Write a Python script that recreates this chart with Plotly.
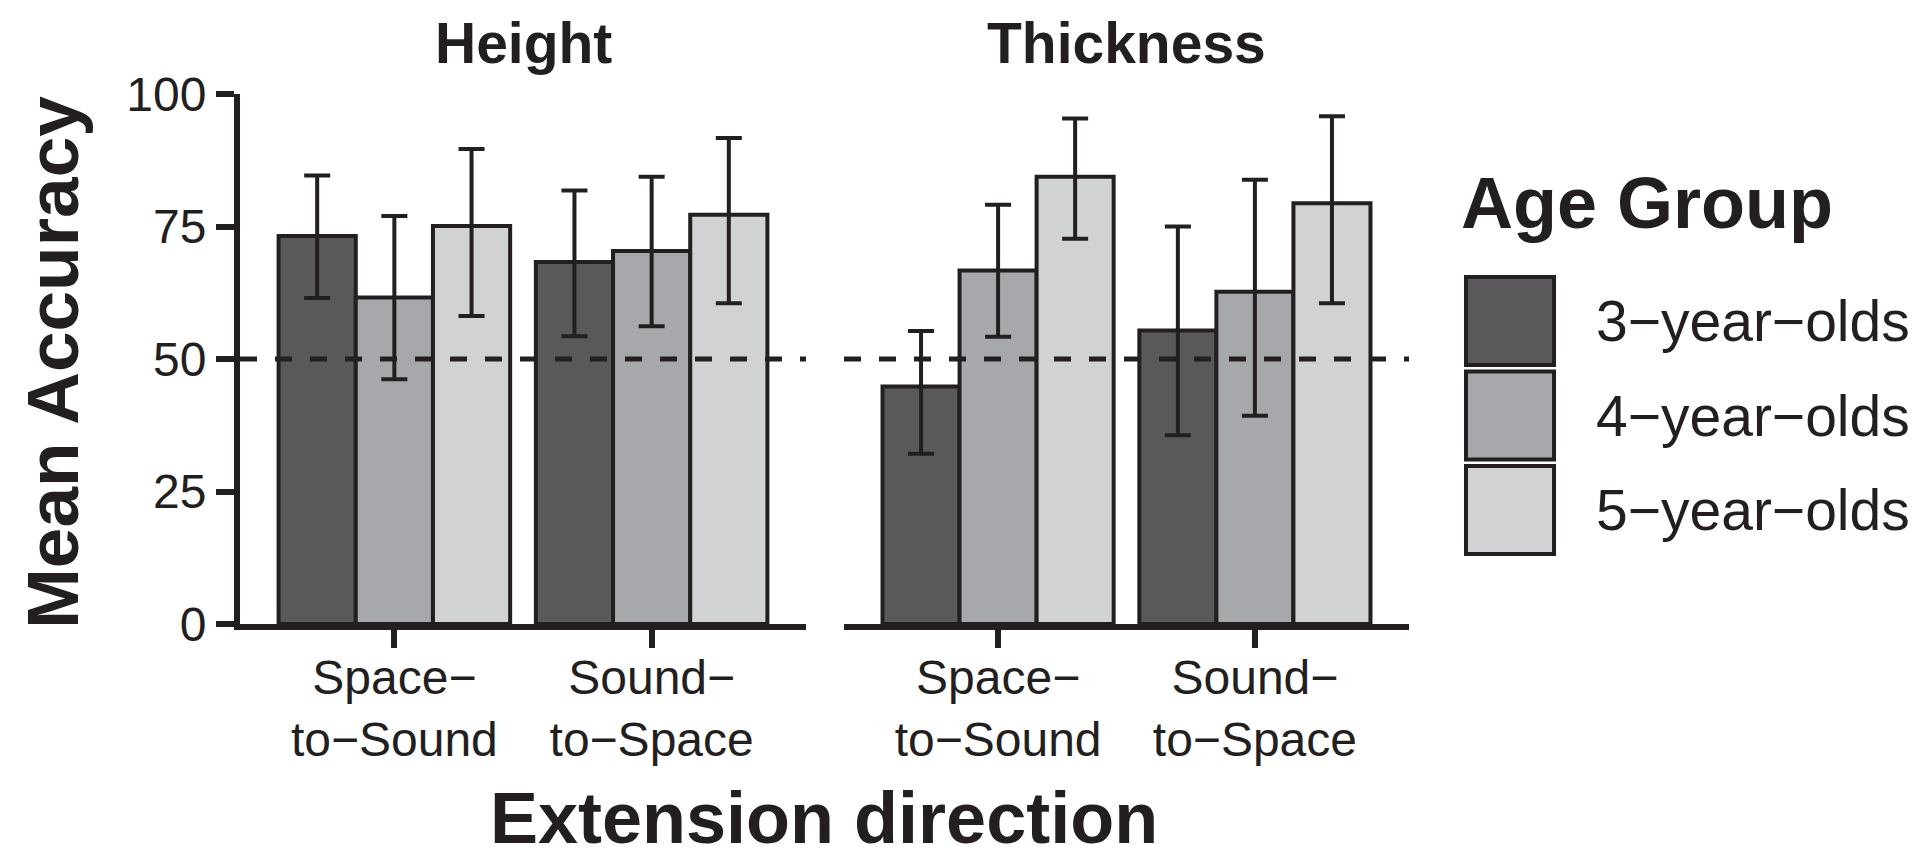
import plotly.graph_objects as go

W, H = 1920, 863
OFF = 6  # compensation for the page's body margin (px)

# ---------------- data ----------------
directions = ["Space\u2212<br>to\u2212Sound", "Sound\u2212<br>to\u2212Space"]
age_groups = ["3\u2212year\u2212olds", "4\u2212year\u2212olds", "5\u2212year\u2212olds"]
panels = ["Height", "Thickness"]

# mean accuracy per panel -> age group -> [Space-to-Sound, Sound-to-Space]
height_mean = {
    "3": [73.2, 68.3],
    "4": [61.6, 70.4],
    "5": [75.1, 77.2],
}
height_lo = {
    "3": [61.5, 54.3],
    "4": [46.2, 56.2],
    "5": [58.1, 60.5],
}
height_hi = {
    "3": [84.6, 81.8],
    "4": [77.0, 84.4],
    "5": [89.6, 91.7],
}
thick_mean = {
    "3": [44.8, 55.4],
    "4": [66.7, 62.7],
    "5": [84.4, 79.4],
}
thick_lo = {
    "3": [32.1, 35.6],
    "4": [54.2, 39.3],
    "5": [72.7, 60.5],
}
thick_hi = {
    "3": [55.3, 75.0],
    "4": [79.1, 83.8],
    "5": [95.4, 95.8],
}
chance_level = 50
y_ticks = [0, 25, 50, 75, 100]

# ---------------- style ----------------
colors = ["#59595b", "#a7a8ab", "#d1d2d4"]
ink = "#231f20"
FONT = "Liberation Sans, Arial, Helvetica, sans-serif"


def px(x):
    return (x - OFF) / W


def py(y):
    return 1 - (y - OFF) / H


fig = go.Figure()

panel_data = [
    ("x", "y", height_mean, height_lo, height_hi),
    ("x2", "y2", thick_mean, thick_lo, thick_hi),
]
keys = ["3", "4", "5"]
for xa, ya, mean, lo, hi in panel_data:
    for i, k in enumerate(keys):
        m = mean[k]
        fig.add_trace(go.Bar(
            x=directions, y=m, name=age_groups[i],
            xaxis=xa, yaxis=ya,
            marker=dict(color=colors[i], line=dict(color=ink, width=4)),
            error_y=dict(type="data", symmetric=False,
                         array=[h - v for h, v in zip(hi[k], m)],
                         arrayminus=[v - l for l, v in zip(lo[k], m)],
                         color=ink, thickness=4, width=13),
            offsetgroup=str(i),
            showlegend=False,
            hovertemplate="%{y:.1f}<extra>" + age_groups[i] + "</extra>",
        ))

ydom = [py(622), py(92)]
axis_common = dict(
    showline=True, linewidth=6, linecolor=ink,
    ticks="outside", ticklen=18, tickwidth=6, tickcolor=ink,
    showgrid=False, zeroline=False, automargin=False,
    tickfont=dict(family=FONT, size=48, color=ink),
)
x_axis_extra = dict(type="category", range=[-0.6, 1.6], ticklabelstandoff=-12)

fig.update_layout(
    width=W, height=H,
    margin=dict(l=0, r=0, t=0, b=0, autoexpand=False),
    paper_bgcolor="white", plot_bgcolor="white",
    barmode="group", bargap=0.1, bargroupgap=0,
    xaxis=dict(domain=[px(238), px(804)], anchor="y", **x_axis_extra,
               **axis_common),
    xaxis2=dict(domain=[px(842), px(1407)], anchor="y2", **x_axis_extra,
                **axis_common),
    yaxis=dict(domain=ydom, anchor="x", range=[0, 100], tickvals=y_ticks,
               **axis_common),
    yaxis2=dict(domain=ydom, anchor="x2", range=[0, 100], matches="y",
                showline=False, showticklabels=False, ticks="",
                showgrid=False, zeroline=False, automargin=False),
    font=dict(family=FONT, color=ink),
)

# chance-level dashed line in each panel
for xr, yr in [("x domain", "y"), ("x2 domain", "y2")]:
    fig.add_shape(type="line", xref=xr, yref=yr, x0=0, x1=1,
                  y0=chance_level, y1=chance_level,
                  line=dict(color=ink, width=5, dash="17px,18px"),
                  layer="above")

# panel (strip) titles (kept fully inside the figure)
for name, cx in zip(panels, [(238 + 804) / 2, (842 + 1407) / 2]):
    fig.add_annotation(text=name, x=px(cx), y=1 - 35 / H, xref="paper",
                       yref="paper", xanchor="center", yanchor="middle",
                       showarrow=False, borderpad=0,
                       font=dict(family=FONT, size=57, color=ink, weight=700))

# axis titles
fig.add_annotation(text="Mean Accuracy", x=44 / W, y=py(361), xref="paper",
                   yref="paper", textangle=-90, xanchor="center",
                   yanchor="middle", showarrow=False, borderpad=0,
                   font=dict(family=FONT, size=73, color=ink, weight=700))
fig.add_annotation(text="Extension direction", x=px(822), y=1 - 810 / H,
                   xref="paper", yref="paper", xanchor="center",
                   yanchor="middle", showarrow=False, borderpad=0,
                   font=dict(family=FONT, size=72, color=ink, weight=700))

# legend (drawn manually to match the large square keys)
fig.add_annotation(text="Age Group", x=px(1458), y=py(201), xref="paper",
                   yref="paper", xanchor="left", yanchor="middle",
                   showarrow=False, borderpad=0,
                   font=dict(family=FONT, size=72, color=ink, weight=700))
key_top = 275
key_step = 94.5
key_size = 88
for i, lab in enumerate(age_groups):
    t = key_top + i * key_step
    fig.add_shape(type="rect", xref="paper", yref="paper",
                  x0=px(1464), x1=px(1552), y0=py(t + key_size), y1=py(t),
                  fillcolor=colors[i], line=dict(color=ink, width=4))
    fig.add_annotation(text=lab, x=px(1593), y=py(t + key_size / 2),
                       xref="paper", yref="paper", xanchor="left",
                       yanchor="middle", showarrow=False, borderpad=0,
                       font=dict(family=FONT, size=57, color=ink))

fig.write_html("out.html")
